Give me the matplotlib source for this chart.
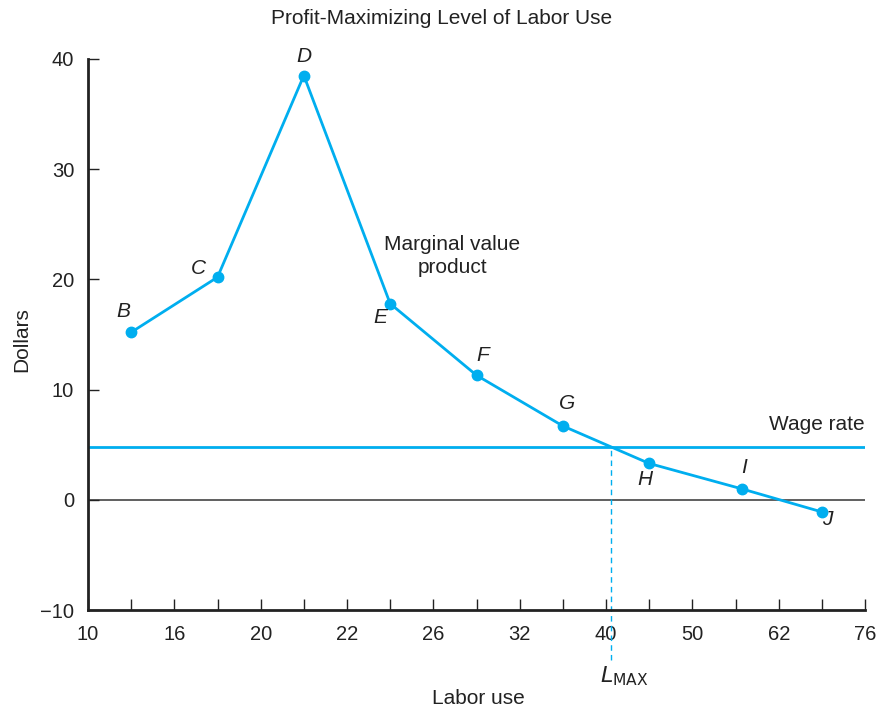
import matplotlib
matplotlib.use("Agg")
import matplotlib.pyplot as plt

plt.rcParams['font.family'] = ['Liberation Sans', 'DejaVu Sans']

# Data
tick_labels = ["10", "16", "20", "22", "26", "32", "40", "50", "62", "76"]
point_names = ["B", "C", "D", "E", "F", "G", "H", "I", "J"]
point_pos = [0.5, 1.5, 2.5, 3.5, 4.5, 5.5, 6.5, 7.57, 8.5]
mvp = [15.2, 20.2, 38.5, 17.8, 11.3, 6.7, 3.3, 1.0, -1.1]
wage_rate = 4.8
lmax_pos = 6.06
yticks = [-10, 0, 10, 20, 30, 40]

cyan = "#00AEEF"
txt = "#222222"

fig = plt.figure(figsize=(8.8, 7.09), dpi=100)
ax = fig.add_axes([0.1, 0.1396, 0.883, 0.7772])

ax.set_xlim(0, len(tick_labels) - 1)
ax.set_ylim(-10, 40)

# zero line
ax.axhline(0, color="#444444", lw=1.2, zorder=1)
# wage rate
ax.axhline(wage_rate, color=cyan, lw=2, zorder=2)
# dashed LMAX
ax.plot([lmax_pos, lmax_pos], [-14.5, wage_rate], color=cyan, lw=1, ls=(0, (4, 3)),
        clip_on=False, zorder=2)

ax.plot(point_pos, mvp, color=cyan, lw=2, marker="o", ms=7.5, zorder=3)

# point labels offsets (points)
offsets = {"B": (-5.8, 15), "C": (-13.7, 6.5), "D": (0, 13.7), "E": (-7, -10),
           "F": (4.3, 14.4), "G": (3, 16), "H": (-3, -11.5), "I": (1.5, 15), "J": (3.6, -5.8)}
for n, x, y in zip(point_names, point_pos, mvp):
    dx, dy = offsets[n]
    ax.annotate(n, (x, y), xytext=(dx, dy), textcoords="offset points",
                ha="center", va="center", fontsize=15, style="italic", color=txt)

ax.text(4.22, 22.1, "Marginal value\nproduct", ha="center", va="center", fontsize=15,
        color=txt, linespacing=1.25)
ax.text(8.99, 6.8, "Wage rate", ha="right", va="center", fontsize=15, color=txt)

# axes styling
for s in ["top", "right"]:
    ax.spines[s].set_visible(False)
for s in ["left", "bottom"]:
    ax.spines[s].set_linewidth(2)
    ax.spines[s].set_color(txt)

ax.set_xticks(range(len(tick_labels)))
ax.set_xticklabels(tick_labels)
ax.set_xticks([i + 0.5 for i in range(len(tick_labels) - 1)], minor=True)
ax.set_yticks(yticks)
ax.set_yticklabels([f"\u2212{abs(v)}" if v < 0 else str(v) for v in yticks])
ax.tick_params(axis="both", which="both", direction="in", length=8, width=1,
               color=txt, labelsize=14.5, labelcolor=txt)
ax.tick_params(axis="x", pad=11)
ax.tick_params(axis="y", pad=10)

fig.text(478 / 880, 1 - 698 / 709, "Labor use", ha="center", va="center", fontsize=15, color=txt)
fig.text(22 / 880, 1 - 340 / 709, "Dollars", ha="center", va="center", fontsize=15,
         color=txt, rotation=90)
fig.text(442 / 880, 1 - 18 / 709, "Profit-Maximizing Level of Labor Use", ha="center",
         va="center", fontsize=15, color=txt)

ax.text(lmax_pos + 0.15, -16.0, r"$\mathit{L}_{\mathrm{MAX}}$", ha="center", va="center",
        fontsize=16, color=txt, clip_on=False)

fig.savefig("out.png", dpi=100)
